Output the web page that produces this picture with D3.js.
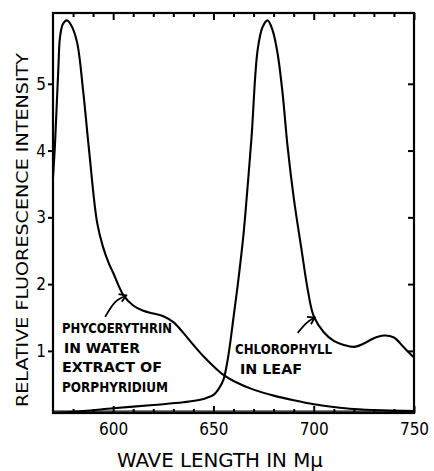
<!DOCTYPE html>
<html>
<head>
    <meta charset="utf-8">
    <title>Fluorescence spectra</title>
    <script src="https://d3js.org/d3.v7.min.js"></script>
    <style>
        body { margin: 0; background: #fff; }
    </style>
</head>
<body>
<div id="chart"></div>
<script type="text/javascript">

    // phycoerythrin (water extract of Porphyridium)
    let phycoNm  = [570, 571, 572.7, 573.5, 575, 577, 579, 582, 585, 588, 592, 595, 598, 600, 605, 610, 615, 620, 625, 630, 635, 640, 645, 650, 655, 660, 670, 680, 690, 700, 710, 720, 735, 750];
    let phycoVal = [3.6, 4.1, 5.26, 5.7, 5.9, 5.95, 5.88, 5.62, 4.9, 4.0, 2.92, 2.55, 2.3, 2.17, 1.84, 1.68, 1.6, 1.56, 1.52, 1.43, 1.27, 1.09, 0.92, 0.77, 0.64, 0.55, 0.42, 0.33, 0.26, 0.2, 0.16, 0.13, 0.11, 0.1];

    // chlorophyll in leaf
    let chlNm  = [570, 585, 600, 620, 635, 645, 650, 653, 655, 657, 658.5, 660, 662, 665, 667, 669, 672, 674.5, 677, 679.5, 682, 684.5, 687, 690, 694, 697, 700, 705, 710, 715, 720, 725, 730, 735, 740, 745, 750];
    let chlVal = [0.07, 0.1, 0.14, 0.19, 0.23, 0.28, 0.34, 0.45, 0.57, 0.85, 1.15, 1.5, 1.96, 2.75, 3.45, 4.2, 5.5, 5.85, 5.95, 5.8, 5.45, 4.85, 4.05, 3.3, 2.5, 1.92, 1.52, 1.28, 1.15, 1.09, 1.06, 1.11, 1.19, 1.23, 1.2, 1.05, 0.9];

    let xMajor = [600, 650, 700, 750];
    let xMinor = [580, 590, 610, 620, 630, 640, 660, 670, 680, 690, 710, 720, 730, 740];
    let yTicks = [1, 2, 3, 4, 5];

    let phycoLabel = ["PHYCOERYTHRIN", "IN WATER", "EXTRACT OF", "PORPHYRIDIUM"];
    let chlLabel = ["CHLOROPHYLL", "IN LEAF"];

    // arrows: [tail, middle, tip] in nm / intensity
    let phycoArrow = [[596, 1.51], [601, 1.73], [606.5, 1.83]];
    let chlArrow = [[692, 1.27], [696.5, 1.42], [700.5, 1.5]];

    let W = 434, H = 471;
    let margin = {top: 13, right: 20, bottom: 58, left: 53};
    let w = W - margin.left - margin.right;
    let h = H - margin.top - margin.bottom;

    let svg = d3.select("#chart")
        .append("svg")
            .attr("width", W)
            .attr("height", H)
        .append("g")
            .attr("transform", "translate(" + margin.left + "," + margin.top + ")");

    let xScale = d3.scaleLinear().domain([570, 750]).range([0, w]);
    let yScale = d3.scaleLinear().domain([0.07, 6.06]).range([h, 0]);

    let font = "'DejaVu Sans Condensed', 'DejaVu Sans', sans-serif";

    // ticks
    function styleAxis(g) {
        g.select(".domain").remove();
        g.selectAll(".tick line")
            .style("stroke", "#000")
            .style("stroke-width", "2px");
        g.selectAll("text").attr("fill", "#000");
    }

    svg.append("g")
        .attr("transform", "translate(0," + h + ")")
        .call(d3.axisBottom(xScale).tickValues(xMajor).tickSizeInner(-7).tickSizeOuter(0).tickPadding(10).tickFormat(d3.format("d")))
        .call(styleAxis)
        .selectAll("text")
            .attr("font-family", font)
            .attr("font-size", "17px");

    svg.append("g")
        .attr("transform", "translate(0," + h + ")")
        .call(d3.axisBottom(xScale).tickValues(xMinor).tickSizeInner(-4).tickSizeOuter(0).tickFormat(""))
        .call(styleAxis);

    svg.append("g")
        .call(d3.axisTop(xScale).tickValues(xMajor).tickSizeInner(-7).tickSizeOuter(0).tickFormat(""))
        .call(styleAxis);

    svg.append("g")
        .call(d3.axisTop(xScale).tickValues(xMinor).tickSizeInner(-4).tickSizeOuter(0).tickFormat(""))
        .call(styleAxis);

    svg.append("g")
        .call(d3.axisLeft(yScale).tickValues(yTicks).tickSizeInner(5).tickSizeOuter(0).tickPadding(2).tickFormat(d3.format("d")))
        .call(styleAxis)
        .selectAll("text")
            .attr("font-family", font)
            .attr("font-size", "17px");

    svg.append("g")
        .attr("transform", "translate(" + w + ",0)")
        .call(d3.axisRight(yScale).tickValues(yTicks).tickSizeInner(-6).tickSizeOuter(0).tickFormat(""))
        .call(styleAxis);

    // frame
    svg.append("rect")
        .attr("x", 0)
        .attr("y", 0)
        .attr("width", w)
        .attr("height", h)
        .attr("fill", "none")
        .attr("stroke", "#000")
        .attr("stroke-width", 2.2);

    svg.append("line")
        .attr("x1", 0).attr("x2", w)
        .attr("y1", h - 1.8).attr("y2", h - 1.8)
        .attr("stroke", "#000")
        .attr("stroke-width", 1.2);

    // curves
    let line = d3.line()
        .x(function(d) { return xScale(d[0]); })
        .y(function(d) { return yScale(d[1]); })
        .curve(d3.curveCatmullRom.alpha(0.5));

    let phyco = d3.zip(phycoNm, phycoVal);
    let chl = d3.zip(chlNm, chlVal);

    let defs = svg.append("defs");
    defs.append("clipPath")
        .attr("id", "clip")
        .append("rect")
            .attr("width", w)
            .attr("height", h);

    [phyco, chl].forEach(function(series) {
        svg.append("path")
            .datum(series)
            .attr("clip-path", "url(#clip)")
            .attr("d", line)
            .attr("fill", "none")
            .attr("stroke", "#000")
            .attr("stroke-width", 2.1)
            .attr("stroke-linejoin", "round");
    });

    // arrows
    defs.append("marker")
        .attr("id", "head")
        .attr("markerUnits", "userSpaceOnUse")
        .attr("viewBox", "-10 -6 12 12")
        .attr("markerWidth", 12)
        .attr("markerHeight", 12)
        .attr("orient", "auto")
        .append("path")
            .attr("d", "M-6.5,-4.2 L0,0 L-6.5,4.2")
            .attr("fill", "none")
            .attr("stroke", "#000")
            .attr("stroke-width", 1.8);

    let arrowLine = d3.line()
        .x(function(d) { return xScale(d[0]); })
        .y(function(d) { return yScale(d[1]); })
        .curve(d3.curveNatural);

    [phycoArrow, chlArrow].forEach(function(a) {
        svg.append("path")
            .datum(a)
            .attr("d", arrowLine)
            .attr("fill", "none")
            .attr("stroke", "#000")
            .attr("stroke-width", 1.8)
            .attr("marker-end", "url(#head)");
    });

    // curve labels (page coordinates)
    let labels = svg.append("g")
        .attr("transform", "translate(" + (-margin.left) + "," + (-margin.top) + ")")
        .attr("font-family", font)
        .attr("font-weight", "bold")
        .attr("font-size", "13.5px");

    let phycoLen = [110, 76, 100, 106];
    labels.selectAll(".phyco")
        .data(phycoLabel)
        .enter()
        .append("text")
        .attr("x", function(d, i) { return i == 1 ? 64 : 62; })
        .attr("y", function(d, i) { return 333 + i * 19.5; })
        .attr("textLength", function(d, i) { return phycoLen[i]; })
        .attr("lengthAdjust", "spacingAndGlyphs")
        .text(function(d) { return d; });

    let chlLen = [97, 62];
    labels.selectAll(".chl")
        .data(chlLabel)
        .enter()
        .append("text")
        .attr("x", function(d, i) { return i == 0 ? 235 : 240; })
        .attr("y", function(d, i) { return 354 + i * 20; })
        .attr("textLength", function(d, i) { return chlLen[i]; })
        .attr("lengthAdjust", "spacingAndGlyphs")
        .text(function(d) { return d; });

    // axis titles
    svg.append("text")
        .attr("transform", "translate(" + (28 - margin.left) + "," + (230 - margin.top) + ") rotate(-90)")
        .style("text-anchor", "middle")
        .attr("font-family", font)
        .attr("font-size", "16.5px")
        .attr("textLength", 354)
        .attr("lengthAdjust", "spacingAndGlyphs")
        .text("RELATIVE FLUORESCENCE INTENSITY");

    svg.append("text")
        .attr("x", 220 - margin.left)
        .attr("y", 467 - margin.top)
        .style("text-anchor", "middle")
        .attr("font-family", font)
        .attr("font-size", "20px")
        .attr("textLength", 206)
        .attr("lengthAdjust", "spacingAndGlyphs")
        .text("WAVE LENGTH IN Mμ");

</script>
</body>
</html>
